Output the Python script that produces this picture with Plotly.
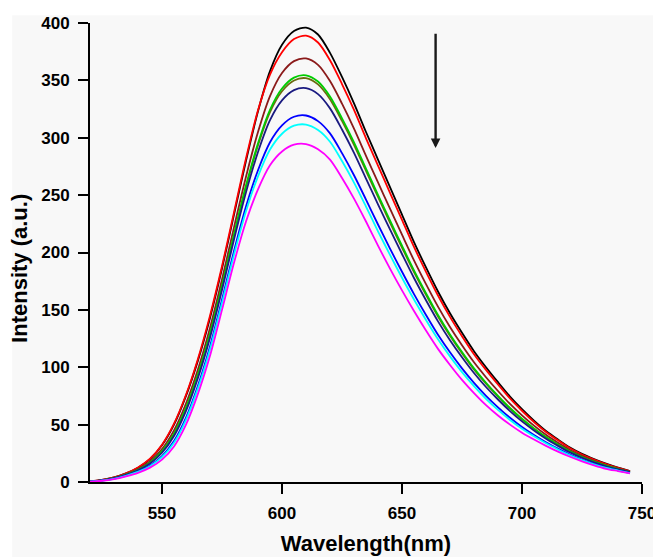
import plotly.graph_objects as go

wavelength = [520, 525, 530, 535, 540, 545, 550, 555, 560, 565, 570, 575, 580, 585, 590, 595,
              600, 605, 610, 615, 620, 625, 630, 635, 640, 645, 650, 655, 660, 665, 670, 675,
              680, 685, 690, 695, 700, 705, 710, 715, 720, 725, 730, 735, 740, 745]

black = [0.5, 1.8, 4, 7.5, 12.5, 20, 32, 50, 75, 106, 143, 186, 233, 280, 323, 358,
         381, 393, 396, 390, 374, 353, 330, 305, 281, 257, 233, 209, 187, 166, 147, 130,
         114, 100, 87, 74.5, 63.5, 53.5, 44.5, 37, 30, 24.5, 20, 16, 12.5, 9.5]
red = [0.5, 1.8, 4, 7.6, 12.7, 20.3, 32.5, 50.8, 76, 107.5, 145, 188, 235, 282, 324, 355,
       374.5, 386, 389, 383, 367.5, 346.8, 324.2, 299.5, 275.8, 252, 228.4, 204.8, 183.2, 162.5, 143.9, 127.1,
       111.4, 97.7, 85, 72.8, 62.1, 52.3, 43.6, 36.3, 29.4, 24, 19.6, 15.7, 12.3, 9.4]
wine = [0.45, 1.6, 3.6, 6.8, 11.3, 18, 28.7, 45, 68.4, 98.3, 134.3, 176.5, 221.9, 266, 305, 336.3,
        356.4, 366.8, 369.1, 363.5, 349.4, 329.7, 308, 284.3, 261.1, 238.2, 215.5, 193.1, 172.4, 152.8, 135.1, 119.1,
        104.3, 91.3, 79.3, 68, 58.1, 49.1, 41.1, 34.2, 27.9, 22.8, 18.5, 14.8, 11.7, 9]
green = [0.42, 1.5, 3.4, 6.5, 10.7, 16.9, 26.9, 42.2, 64.8, 94.1, 129.5, 171.2, 215.8, 258.3, 295.1, 324.4,
         342.9, 352.4, 354.4, 349, 335.9, 316.9, 296, 273, 250.3, 227.9, 205.9, 184.4, 164.5, 145.5, 128.6, 113.2,
         99, 86.5, 75.1, 64.5, 55.1, 46.7, 39.2, 32.7, 26.7, 21.8, 17.7, 14.2, 11.3, 8.7]
olive = [0.41, 1.5, 3.4, 6.4, 10.5, 16.7, 26.6, 41.7, 64.2, 93.4, 128.7, 170.3, 214.7, 257, 293.4, 322.3,
         340.5, 349.9, 351.9, 346.5, 333.6, 314.7, 293.9, 271.1, 248.4, 226.1, 204.3, 182.9, 163.1, 144.3, 127.5, 112.2,
         98.1, 85.7, 74.4, 63.9, 54.6, 46.3, 38.9, 32.4, 26.5, 21.6, 17.6, 14.1, 11.2, 8.7]
navy = [0.4, 1.4, 3.3, 6.2, 10.2, 16.1, 25.5, 40.1, 62, 90.9, 125.8, 167.3, 211.2, 252.4, 287.6, 315.4,
        332.6, 341.5, 343.2, 338, 325.6, 307.2, 286.8, 264.4, 242, 220.1, 198.7, 177.8, 158.4, 140, 123.6, 108.7,
        95, 82.8, 71.9, 61.8, 52.8, 44.9, 37.7, 31.5, 25.8, 21.1, 17.1, 13.7, 10.9, 8.5]
blue = [0.35, 1.3, 2.9, 5.6, 9.1, 14.3, 22.6, 35.7, 56.1, 84.1, 118.1, 158.8, 201.3, 240, 271.7, 296.1,
        310.8, 318.3, 319.4, 314.5, 303.8, 286.6, 267.3, 246.1, 224.4, 203.4, 183.2, 163.7, 145.5, 128.3, 113, 99,
        86.4, 75.1, 65.1, 56, 48, 41, 34.7, 29.1, 24, 19.6, 15.8, 12.6, 10.2, 8]
cyan = [0.33, 1.2, 2.8, 5.4, 8.8, 13.8, 21.6, 34.2, 54.2, 81.8, 115.5, 156, 198, 235.9, 266.4, 289.7,
        303.5, 310.5, 311.5, 306.7, 296.5, 279.7, 260.9, 240, 218.5, 197.9, 178, 159, 141.2, 124.4, 109.5, 95.8,
        83.6, 72.5, 62.8, 54.1, 46.4, 39.8, 33.7, 28.3, 23.3, 19.1, 15.4, 12.3, 10, 7.8]
magenta = [0.3, 1.1, 2.6, 5, 8, 12.5, 19.5, 31, 50, 77, 110, 150, 191, 227, 255, 276,
           288, 294, 294.5, 290, 281, 265, 247, 227, 206, 186, 167, 149, 132, 116, 102, 89,
           77.5, 67, 58, 50, 43, 37, 31.5, 26.5, 22, 18, 14.5, 11.5, 9.5, 7.5]

series = [
    ("black", black, "#000000"),
    ("red", red, "#ff0000"),
    ("wine", wine, "#8b1a1a"),
    ("olive", olive, "#6b6b10"),
    ("green", green, "#00cc00"),
    ("navy", navy, "#1a1a80"),
    ("blue", blue, "#0000ff"),
    ("cyan", cyan, "#00ffff"),
    ("magenta", magenta, "#ff00ff"),
]

x_ticks = [550, 600, 650, 700, 750]
y_ticks = [0, 50, 100, 150, 200, 250, 300, 350, 400]

FONT = "Liberation Sans, Arial, sans-serif"
BG = "#f8f8f8"

fig = go.Figure()
for name, vals, col in series:
    fig.add_trace(go.Scatter(x=wavelength, y=vals, mode="lines", name=name,
                             line=dict(color=col, width=1.8, shape="spline", smoothing=0.8)))

fig.add_annotation(x=664, y=291, ax=664, ay=392, xref="x", yref="y", axref="x", ayref="y",
                   text="", showarrow=True, arrowhead=2, arrowsize=0.8, arrowwidth=2.4,
                   arrowcolor="#1a1a1a")

# y-axis title (placed slightly below the axis centre, as in the original)
fig.add_annotation(text="Intensity (a.u.)", textangle=-90, xref="paper", yref="paper",
                   x=-0.129, y=0.466, xanchor="center", yanchor="middle", showarrow=False,
                   font=dict(family=FONT, size=22, weight="bold", color="#000000"))

# light grey background panel (white strip at top/left of the image)
fig.add_shape(type="rect", xref="paper", yref="paper", x0=-0.141, x1=1.05, y0=-0.2, y1=1.017,
              fillcolor=BG, line=dict(width=0), layer="below")

fig.update_layout(
    width=653, height=557,
    margin=dict(l=90, r=11, t=23, b=75, autoexpand=False),
    paper_bgcolor="#ffffff", plot_bgcolor="rgba(0,0,0,0)",
    showlegend=False,
    font=dict(family=FONT, color="#000000"),
)
fig.update_xaxes(
    range=[520, 750], tickvals=x_ticks, ticktext=[str(v) for v in x_ticks],
    showgrid=False, zeroline=False, showline=True, linecolor="#000000", linewidth=2,
    ticks="outside", ticklen=10, tickwidth=2, tickcolor="#000000",
    ticklabelstandoff=5, ticklabeloverflow="allow", automargin=False,
    tickfont=dict(family=FONT, size=17, weight="bold"),
    title=dict(text="Wavelength(nm)", font=dict(family=FONT, size=22, weight="bold"), standoff=13),
)
fig.update_yaxes(
    range=[0, 400], tickvals=y_ticks, ticktext=[str(v) for v in y_ticks],
    showgrid=False, zeroline=False, showline=True, linecolor="#000000", linewidth=2,
    ticks="outside", ticklen=10, tickwidth=2, tickcolor="#000000",
    ticklabelstandoff=5, ticklabeloverflow="allow", automargin=False,
    tickfont=dict(family=FONT, size=17, weight="bold"),
)

# remove the browser's default page margin so the figure fills the window exactly
fig.write_html("out.html",
               config={"displayModeBar": False},
               post_script="document.body.style.margin='0';"
                           "document.documentElement.style.overflow='hidden';")
